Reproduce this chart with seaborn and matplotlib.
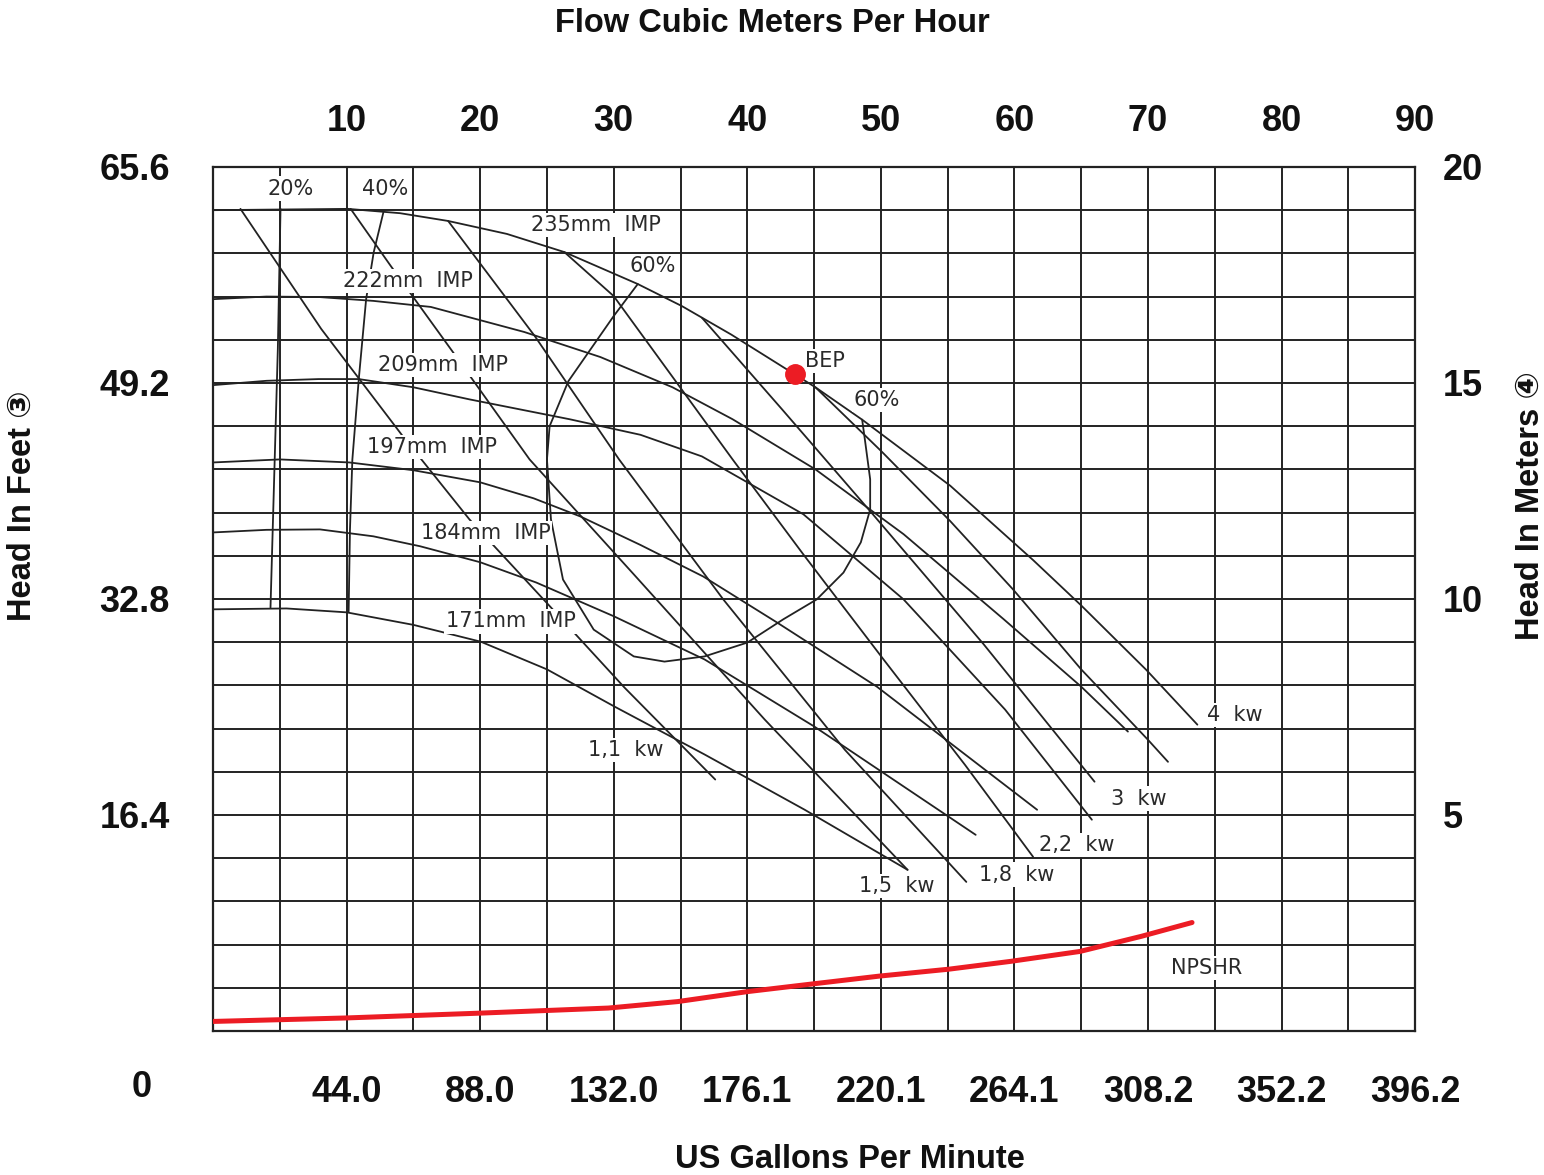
import numpy as np
import pandas as pd
import matplotlib
matplotlib.use("Agg")
import matplotlib.pyplot as plt
import seaborn as sns

# --- axis values (flow in m3/h, head in m) ---
flow_ticks = [10, 20, 30, 40, 50, 60, 70, 80, 90]
gpm_labels = ["44.0", "88.0", "132.0", "176.1", "220.1", "264.1", "308.2", "352.2", "396.2"]
head_m_ticks = [5, 10, 15, 20]
head_ft_labels = ["16.4", "32.8", "49.2", "65.6"]

# --- impeller curves ---
imp_235_q = [0, 10.1, 14.0, 17.6, 22.0, 26.3, 31.8, 35.1, 38.8, 43.55, 45.1, 48.6, 55.2, 61.4, 65.0, 69.9, 73.7]
imp_235_h = [19.0, 19.03, 18.93, 18.75, 18.45, 18.03, 17.29, 16.78, 16.12, 15.2, 14.9, 14.15, 12.62, 10.9, 9.85, 8.35, 7.09]
imp_222_q = [0, 4.0, 7.9, 12.0, 16.3, 23.3, 29.0, 34.4, 38.9, 45.1, 51.7, 59.2, 65.0, 68.5]
imp_222_h = [16.94, 17.0, 16.99, 16.9, 16.76, 16.18, 15.6, 14.9, 14.16, 13.0, 11.5, 9.53, 7.97, 6.93]
imp_209_q = [0, 4.0, 7.9, 10.9, 15.0, 19.2, 26.7, 32.0, 36.6, 44.2, 51.7, 59.3, 65.8]
imp_209_h = [14.95, 15.05, 15.09, 15.09, 14.9, 14.62, 14.16, 13.8, 13.3, 11.96, 9.99, 7.44, 4.89]
imp_197_q = [0, 5.0, 10.2, 15.0, 20.0, 24.0, 27.5, 32.0, 36.7, 42.2, 49.7, 61.7]
imp_197_h = [13.16, 13.23, 13.16, 12.98, 12.7, 12.33, 11.91, 11.25, 10.52, 9.46, 7.97, 5.12]
imp_184_q = [0, 4.0, 8.0, 12.0, 15.5, 20.0, 24.2, 30.0, 36.8, 45.0, 57.1]
imp_184_h = [11.54, 11.6, 11.61, 11.45, 11.22, 10.85, 10.38, 9.6, 8.6, 7.05, 4.54]
imp_171_q = [0, 5.5, 10.0, 15.0, 20.05, 25.0, 30.05, 36.8, 44.3, 52.0]
imp_171_h = [9.76, 9.78, 9.69, 9.4, 9.01, 8.37, 7.51, 6.4, 5.12, 3.73]

# --- power lines ---
kw_11_q = [2.05, 8.1, 14.2, 19.2, 25.1, 30.8, 37.6]
kw_11_h = [19.03, 16.25, 13.77, 11.84, 9.87, 7.95, 5.82]
kw_15_q = [10.3, 13.3, 17.9, 23.7, 31.5, 41.3, 52.0]
kw_15_h = [19.03, 17.71, 15.74, 13.23, 10.57, 7.21, 3.73]
kw_18_q = [17.6, 24.1, 30.4, 38.2, 47.3, 56.4]
kw_18_h = [18.75, 16.08, 13.23, 9.99, 6.51, 3.45]
kw_22_q = [26.3, 30.0, 38.9, 44.2, 50.2, 56.3, 61.4]
kw_22_h = [18.03, 17.01, 13.23, 11.03, 8.6, 6.16, 4.03]
kw_3_q = [36.6, 42.6, 49.4, 57.7, 66.0]
kw_3_h = [16.51, 14.39, 11.96, 8.95, 5.77]
kw_4_q = [45.1, 50.1, 55.2, 59.9, 65.0, 70.0, 71.5]
kw_4_h = [14.9, 13.4, 11.8, 10.22, 8.37, 6.74, 6.23]

# --- efficiency curves ---
eff_20_q = [5.05, 4.85, 4.3]
eff_20_h = [19.03, 15.8, 9.8]
eff_40_q = [12.76, 12.03, 11.46, 10.91, 10.43, 10.25, 10.15]
eff_40_h = [18.96, 18.03, 16.94, 15.09, 13.23, 11.61, 9.71]
eff_60_q = [31.8, 30.0, 26.6, 25.2, 25.0, 25.3, 26.2, 28.5, 31.5, 33.8, 36.8, 40.0,
            42.7, 45.2, 47.2, 48.5, 49.2, 49.2, 48.8, 48.6]
eff_60_h = [17.29, 16.55, 15.04, 14.0, 13.23, 11.84, 10.45, 9.29, 8.67, 8.55, 8.67, 8.99,
            9.53, 9.99, 10.61, 11.31, 12.07, 12.77, 13.7, 14.15]

# --- NPSHR and best efficiency point ---
npshr_q = [0, 9.9, 19.8, 29.6, 34.8, 40.0, 45.2, 49.9, 55.1, 59.7, 64.9, 69.5, 73.3]
npshr_h = [0.22, 0.30, 0.41, 0.53, 0.68, 0.91, 1.10, 1.27, 1.43, 1.61, 1.84, 2.19, 2.51]
bep_q = [43.55]
bep_h = [15.2]

curves = {
    "235": (imp_235_q, imp_235_h), "222": (imp_222_q, imp_222_h),
    "209": (imp_209_q, imp_209_h), "197": (imp_197_q, imp_197_h),
    "184": (imp_184_q, imp_184_h), "171": (imp_171_q, imp_171_h),
    "1.1kw": (kw_11_q, kw_11_h), "1.5kw": (kw_15_q, kw_15_h),
    "1.8kw": (kw_18_q, kw_18_h), "2.2kw": (kw_22_q, kw_22_h),
    "3kw": (kw_3_q, kw_3_h), "4kw": (kw_4_q, kw_4_h),
    "20%": (eff_20_q, eff_20_h), "40%": (eff_40_q, eff_40_h), "60%": (eff_60_q, eff_60_h),
}
rows = []
for name, (q, h) in curves.items():
    for i, (qq, hh) in enumerate(zip(q, h)):
        rows.append({"curve": name, "step": i, "Q": qq, "H": hh})
df = pd.DataFrame(rows)

# text labels on the drawing: (text, Q, H)
labels = [
    ("20%", 5.8, 19.5), ("40%", 12.9, 19.5), ("235mm  IMP", 28.7, 18.66),
    ("60%", 32.9, 17.71), ("222mm  IMP", 14.6, 17.36), ("209mm  IMP", 17.2, 15.41),
    ("BEP", 45.8, 15.5), ("60%", 49.7, 14.6), ("197mm  IMP", 16.4, 13.51),
    ("184mm  IMP", 20.4, 11.52), ("171mm  IMP", 22.3, 9.48), ("1,1  kw", 30.9, 6.51),
    ("4  kw", 76.5, 7.32), ("3  kw", 69.3, 5.38), ("2,2  kw", 64.65, 4.31),
    ("1,8  kw", 60.2, 3.62), ("1,5  kw", 51.2, 3.36), ("NPSHR", 74.4, 1.46),
]

sns.set_theme(style="white")
plt.rcParams["font.family"] = ["Liberation Sans", "DejaVu Sans", "Noto Sans CJK SC"]

fig = plt.figure(figsize=(15.44, 11.75), dpi=100)
ax = fig.add_axes([0.138, 0.1226, 0.7785, 0.7353])

sns.lineplot(data=df, x="Q", y="H", units="curve", estimator=None, sort=False,
             color="#222222", linewidth=1.3, ax=ax, legend=False, zorder=3)
sns.lineplot(x=npshr_q, y=npshr_h, sort=False, color="#ec1c24", linewidth=3.6,
             ax=ax, zorder=4)
ax.plot(bep_q, bep_h, "o", color="#ec1c24", markersize=14, zorder=8)

for txt, q, h in labels:
    ax.text(q, h, txt, ha="center", va="center", fontsize=15, color="#2a2a2a",
            family="DejaVu Sans", zorder=6,
            bbox=dict(facecolor="white", edgecolor="none", pad=1.5))

ax.set_xlim(0, 90)
ax.set_ylim(0, 20)
ax.set_xlabel("")
ax.set_ylabel("")

ax.set_xticks(flow_ticks)
ax.set_xticklabels(gpm_labels, fontsize=26, fontweight="bold")
ax.set_xticks(np.arange(0, 91, 5), minor=True)
ax.set_yticks(head_m_ticks)
ax.set_yticklabels(head_ft_labels, fontsize=26, fontweight="bold")
ax.set_yticks(np.arange(0, 21, 1), minor=True)
ax.grid(which="both", color="#222222", linewidth=1.4)
ax.set_axisbelow(True)
ax.tick_params(which="both", length=0)
ax.tick_params(axis="x", pad=32, colors="#111111")
ax.tick_params(axis="y", pad=31, colors="#111111")
for s in ax.spines.values():
    s.set_color("#222222")
    s.set_linewidth(1.6)

top = ax.secondary_xaxis("top")
top.set_xticks(flow_ticks)
top.set_xticklabels([str(v) for v in flow_ticks], fontsize=26, fontweight="bold")
top.tick_params(length=0, pad=20, colors="#111111")
top.spines["top"].set_visible(False)

right = ax.secondary_yaxis("right")
right.set_yticks(head_m_ticks)
right.set_yticklabels([str(v) for v in head_m_ticks], fontsize=26, fontweight="bold")
right.tick_params(length=0, pad=20, colors="#111111")
right.spines["right"].set_visible(False)

ax.text(-0.059, -0.066, "0", transform=ax.transAxes, ha="center", va="center",
        fontsize=26, fontweight="bold", color="#111111")

fig.text(772 / 1544, 1 - 24 / 1175, "Flow Cubic Meters Per Hour", ha="center", va="center",
         fontsize=23.5, fontweight="bold", color="#111111")
fig.text(850 / 1544, 1 - 1160 / 1175, "US Gallons Per Minute", ha="center", va="center",
         fontsize=23.5, fontweight="bold", color="#111111")
fig.text(22 / 1544, 1 - 506 / 1175, "Head In Feet \u2462", ha="center", va="center",
         rotation=90, fontsize=23.5, fontweight="bold", color="#111111")
fig.text(1530 / 1544, 1 - 506 / 1175, "Head In Meters \u2463", ha="center", va="center",
         rotation=90, fontsize=23.5, fontweight="bold", color="#111111")

fig.savefig("out.png", dpi=100, facecolor="white")
